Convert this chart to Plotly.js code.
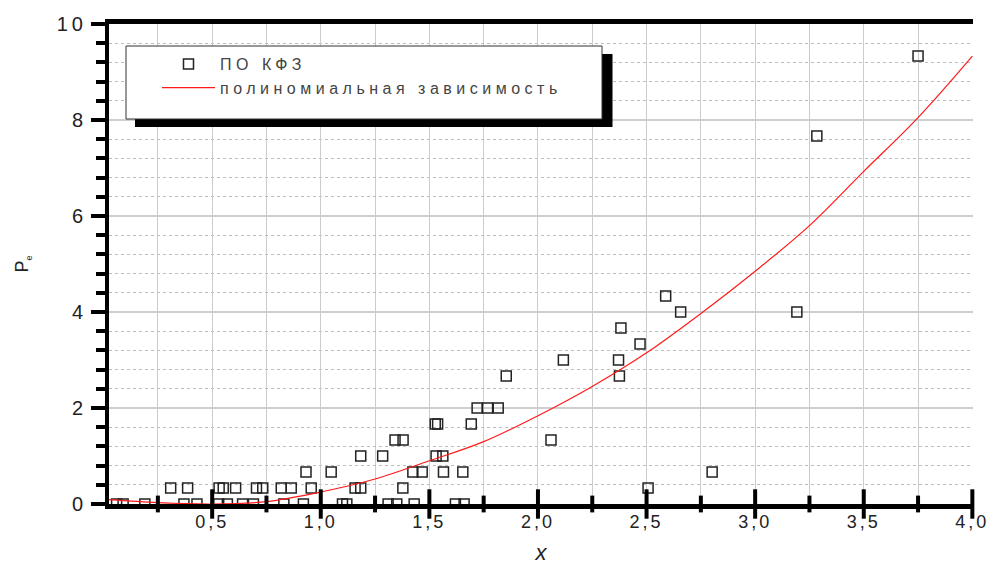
<!DOCTYPE html>
<html>
<head>
<meta charset="utf-8">
<script src="https://cdn.plot.ly/plotly-3.0.1.min.js"></script>
<style>
  html, body { margin: 0; padding: 0; background: #fff; }
  #chart { width: 988px; height: 565px; }
  .xtick text { letter-spacing: 3px; }
  .ytick text { letter-spacing: 4px; }
  .legendtext { letter-spacing: 4.5px; }
</style>
</head>
<body>
<div id="chart"></div>
<script>
// ---- data ----
const pointsX = [
  0.06, 0.09, 0.19, 0.37, 0.43, 0.53, 0.57, 0.64, 0.69, 0.83, 0.92, 1.10, 1.12, 1.31, 1.35, 1.43, 1.62, 1.66,
  0.309, 0.387, 0.532, 0.551, 0.608, 0.704, 0.733, 0.818, 0.864, 0.956, 1.158, 1.184, 1.378, 2.507,
  0.932, 1.048, 1.424, 1.467, 1.565, 1.654, 2.802,
  1.184, 1.285, 1.531, 1.562,
  1.342, 1.379, 2.060,
  1.527, 1.538, 1.693,
  1.720, 1.768, 1.817,
  1.854, 2.375,
  2.117, 2.371,
  2.470,
  2.382,
  2.657, 3.192,
  2.588,
  3.284,
  3.750
];
const pointsY = [
  0, 0, 0, 0, 0, 0, 0, 0, 0, 0, 0, 0, 0, 0, 0, 0, 0, 0,
  0.333, 0.333, 0.333, 0.333, 0.333, 0.333, 0.333, 0.333, 0.333, 0.333, 0.333, 0.333, 0.333, 0.333,
  0.667, 0.667, 0.667, 0.667, 0.667, 0.667, 0.667,
  1.0, 1.0, 1.0, 1.0,
  1.333, 1.333, 1.333,
  1.667, 1.667, 1.667,
  2.0, 2.0, 2.0,
  2.667, 2.667,
  3.0, 3.0,
  3.333,
  3.667,
  4.0, 4.0,
  4.333,
  7.667,
  9.333
];
const curveX = [0, 0.25, 0.5, 0.75, 1.0, 1.25, 1.5, 1.75, 2.0, 2.25, 2.5, 2.75, 3.0, 3.25, 3.5, 3.75, 4.0];
const curveY = [0.10, 0.03, 0.0, 0.05, 0.25, 0.52, 0.90, 1.30, 1.84, 2.45, 3.15, 3.97, 4.85, 5.80, 6.93, 8.05, 9.33];

const seriesNames = ["ПО КФЗ", "полиномиальная зависимость"];
const xTickVals = [0.5, 1.0, 1.5, 2.0, 2.5, 3.0, 3.5, 4.0];
const xTickText = ["0,5", "1,0", "1,5", "2,0", "2,5", "3,0", "3,5", "4,0"];
const xMinorTickVals = [0.25, 0.75, 1.25, 1.75, 2.25, 2.75, 3.25, 3.75];
const yTickVals = [0, 2, 4, 6, 8, 10];
const yTickText = ["0", "2", "4", "6", "8", "10"];

// ---- chart ----
const FONT = "'Liberation Sans', Arial, sans-serif";
const traces = [
  {
    x: pointsX, y: pointsY, type: 'scatter', mode: 'markers', name: seriesNames[0],
    marker: { symbol: 'square-open', size: 10, color: '#222', line: { width: 1.5, color: '#222' } }
  },
  {
    x: curveX, y: curveY, type: 'scatter', mode: 'lines', name: seriesNames[1],
    line: { color: '#ff1a1a', width: 1.2, shape: 'spline', smoothing: 1 }
  },
  // crossing tick marks of the x axis (major / minor), placed by the axis scale
  {
    x: xTickVals, y: xTickVals.map(() => 0), type: 'scatter', mode: 'markers', showlegend: false,
    hoverinfo: 'skip', cliponaxis: false,
    marker: { symbol: 'line-ns', size: 21, color: '#000', line: { width: 4, color: '#000' } }
  },
  {
    x: xMinorTickVals, y: xMinorTickVals.map(() => 0), type: 'scatter', mode: 'markers', showlegend: false,
    hoverinfo: 'skip', cliponaxis: false,
    marker: { symbol: 'line-ns', size: 12, color: '#000', line: { width: 4, color: '#000' } }
  }
];

const W = 864, H = 480, L = 109, T = 24;
function px(v) { return (v - L) / W; }
function py(v) { return (T + H - v) / H; }
const XR = [0.025, 4.003];

const layout = {
  width: 988, height: 565,
  margin: { l: L, r: 988 - L - W, t: T, b: 565 - T - H, pad: 0 },
  paper_bgcolor: '#fff', plot_bgcolor: '#fff',
  font: { family: FONT, color: '#222' },
  showlegend: true,
  legend: {
    x: px(157), y: py(47), xanchor: 'left', yanchor: 'top',
    bgcolor: 'rgba(0,0,0,0)', borderwidth: 0, itemwidth: 53,
    font: { family: FONT, size: 16, color: '#444' }, tracegroupgap: 0
  },
  xaxis: {
    range: XR, fixedrange: true,
    showline: true, linecolor: '#000', linewidth: 5, mirror: true,
    tickmode: 'array', tickvals: xTickVals, ticktext: xTickText,
    ticks: '', ticklabeloverflow: 'allow', ticklabelstandoff: -3,
    tickfont: { family: FONT, size: 18, color: '#222' },
    showgrid: true, gridcolor: '#cccccc', gridwidth: 1, zeroline: false,
    minor: { tickmode: 'linear', tick0: 0, dtick: 0.25, ticks: '',
             showgrid: true, gridcolor: '#cccccc', gridwidth: 1 },
    title: { text: '<i>x</i>', font: { family: FONT, size: 22, color: '#222' }, standoff: 24 }
  },
  yaxis: {
    range: [0, 10], fixedrange: true,
    showline: true, linecolor: '#000', linewidth: 4, mirror: false,
    tickmode: 'array', tickvals: yTickVals, ticktext: yTickText,
    ticks: 'outside', ticklen: 14, tickwidth: 4, tickcolor: '#000',
    tickfont: { family: FONT, size: 20, color: '#222' },
    showgrid: true, gridcolor: '#cfcfcf', gridwidth: 1.5, zeroline: false,
    minor: { tickmode: 'linear', tick0: 0, dtick: 0.4, ticks: 'outside', ticklen: 9, tickwidth: 4, tickcolor: '#000',
             showgrid: true, gridcolor: '#bdbdbd', gridwidth: 1, griddash: 'dot' },
    title: { text: "P<sub><span style='font-size:9px'>e</span></sub>", font: { family: FONT, size: 18, color: '#222' }, standoff: 24 }
  },
  shapes: [
    { type: 'rect', xref: 'paper', yref: 'paper', layer: 'above',
      x0: px(135), x1: px(612.5), y0: py(127), y1: py(54),
      fillcolor: '#000', line: { width: 0 } },
    { type: 'rect', xref: 'paper', yref: 'paper', layer: 'above',
      x0: px(126), x1: px(602), y0: py(119), y1: py(46),
      fillcolor: '#fff', line: { width: 1, color: '#333' } }
  ]
};

Plotly.newPlot('chart', traces, layout, { staticPlot: true, displayModeBar: false });
</script>
</body>
</html>
